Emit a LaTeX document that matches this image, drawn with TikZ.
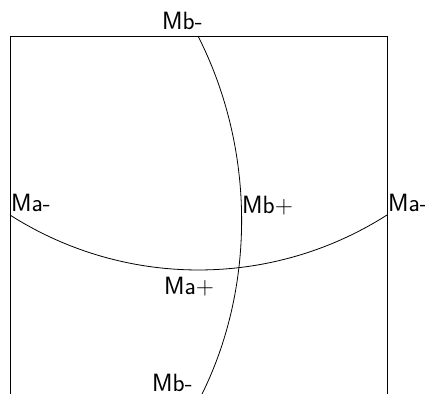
\documentclass[tikz,border=0pt]{standalone}
\begin{document}
\begin{tikzpicture}[x=1pt,y=-1pt,
  lbl/.style={inner sep=0pt,font=\sffamily\fontsize{25}{25}\selectfont},
  ln/.style={line width=0.8pt,black}]
\useasboundingbox (0,0) rectangle (425,393);
\coordinate (tl) at (10,36);
\coordinate (tr) at (387,36);
\coordinate (bl) at (10,400);
\coordinate (br) at (387,400);
\coordinate (aL) at (10,215);
\coordinate (aR) at (387,215);
\coordinate (bT) at (198,36);
\coordinate (bB) at (199,400);
\draw[ln] (bl) -- (tl) -- (tr) -- (br);
\draw[ln] (aL) .. controls (125,288.3) and (272,288.3) .. (aR);
\draw[ln] (bT) .. controls (256,150) and (256,290) .. (bB);
\node[lbl,anchor=base west] (mbt) at (162,30) {Mb-};
\node[lbl,anchor=base west] (mal) at (11,211) {Ma-};
\node[lbl,anchor=base west] (mar) at (388,211) {Ma-};
\node[lbl,anchor=base west] (mbp) at (242,213) {Mb+};
\node[lbl,anchor=base west] (map) at (164,294) {Ma+};
\node[lbl,anchor=base west] (mbb) at (152,391) {Mb-};
\end{tikzpicture}
\end{document}
